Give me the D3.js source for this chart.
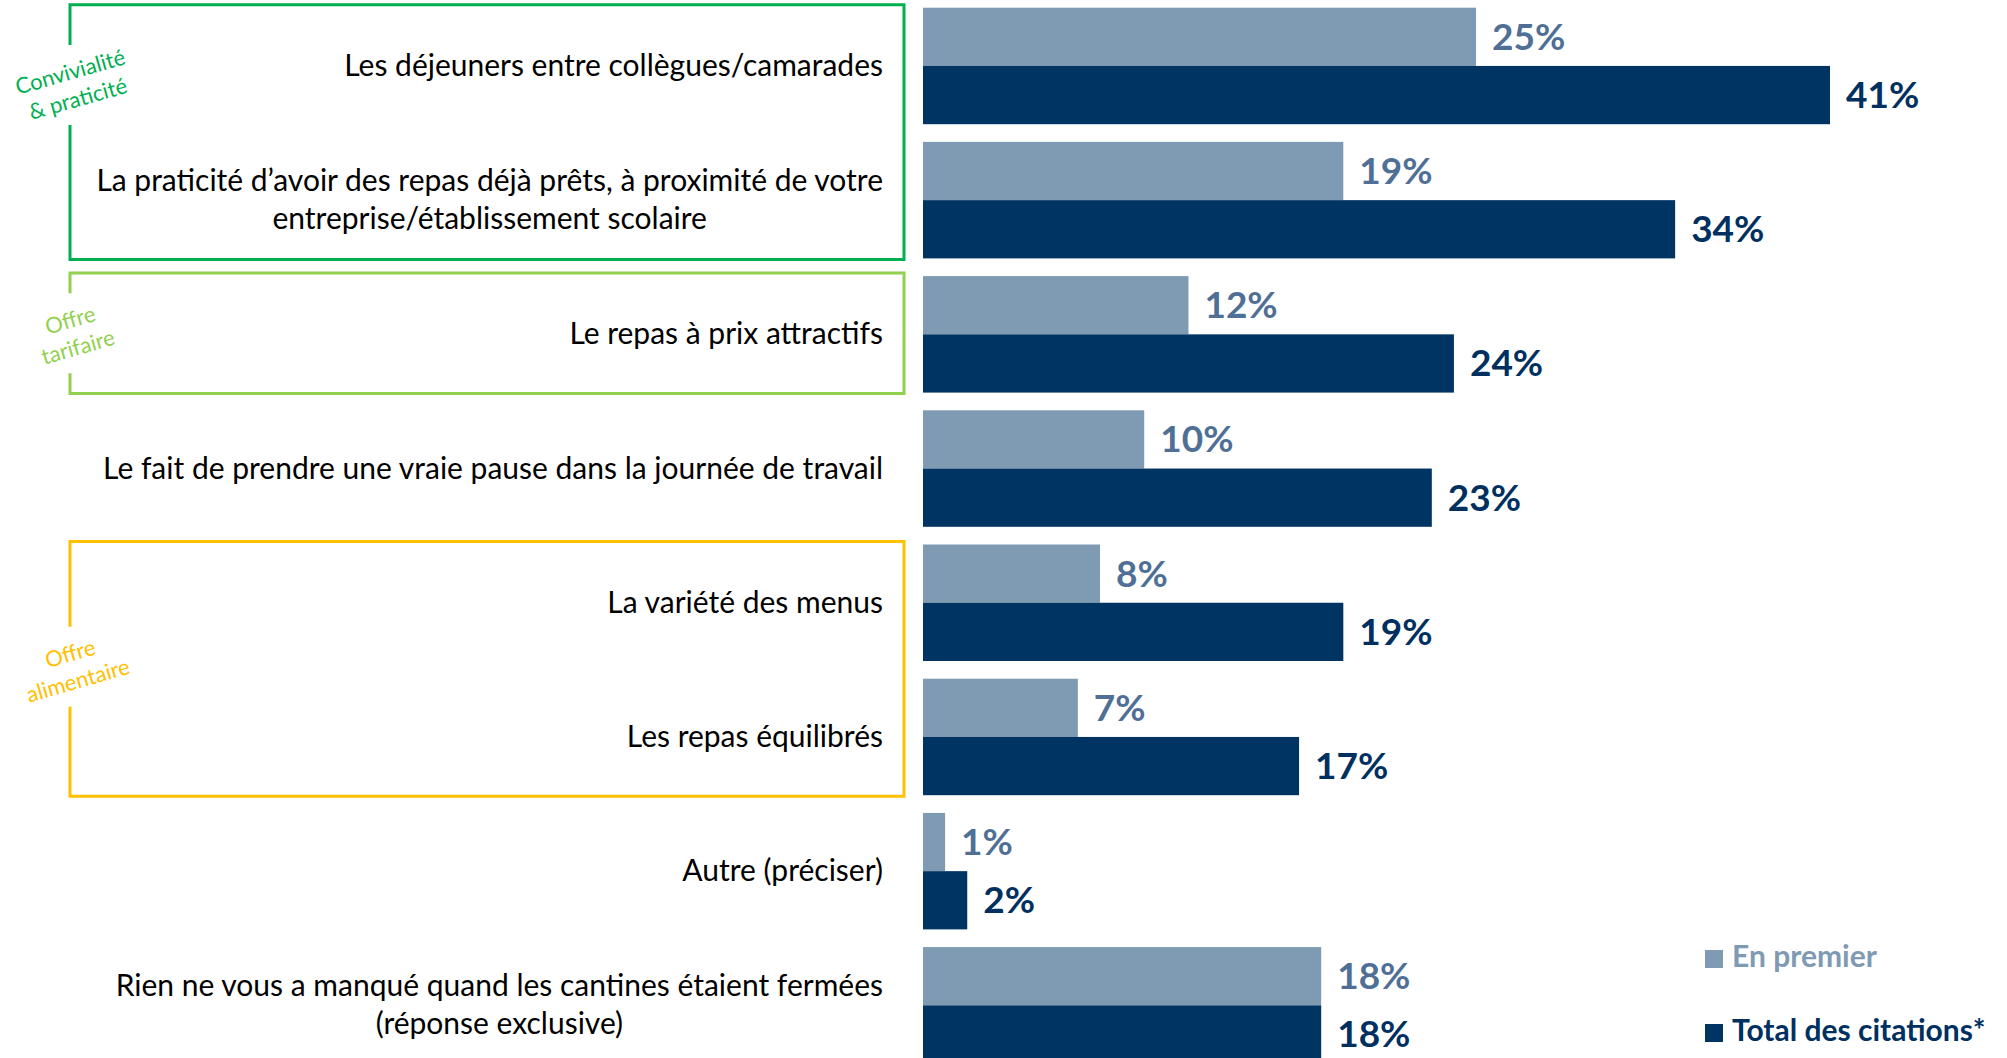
<!DOCTYPE html>
<html>
<head>
<meta charset="utf-8">
<script src="https://cdn.jsdelivr.net/npm/d3@7"></script>
<style>
  body { margin: 0; background: #fff; }
  text { font-family: Lato, "Open Sans", sans-serif; }
</style>
</head>
<body>
<div id="chart"></div>
<script>
var svgWidth = 2007;
var svgHeight = 1058;

// data
var categories = [
  "Les déjeuners entre collègues/camarades",
  "La praticité d’avoir des repas déjà prêts, à proximité de votre|entreprise/établissement scolaire",
  "Le repas à prix attractifs",
  "Le fait de prendre une vraie pause dans la journée de travail",
  "La variété des menus",
  "Les repas équilibrés",
  "Autre (préciser)",
  "Rien ne vous a manqué quand les cantines étaient fermées|(réponse exclusive)"
];
var seriesNames = ["En premier", "Total des citations*"];
var enPremier = [25, 19, 12, 10, 8, 7, 1, 18];
var totalCitations = [41, 34, 24, 23, 19, 17, 2, 18];

// group frames: label lines, first and last category index
var groupLabels = [["Convivialité", "& praticité"], ["Offre", "tarifaire"], ["Offre", "alimentaire"]];
var groupFirst = [0, 2, 4];
var groupLast = [1, 2, 5];
var groupShift = [-47, 0, -2];
var groupColors = ["#00b050", "#92d050", "#ffc000"];

var barColors = ["#7f9ab3", "#003463"];
var labelColors = ["#4f6f96", "#00305f"];

var rows = categories.map(function(c, i) {
  return {cat: c, values: [enPremier[i], totalCitations[i]]};
});

var svg = d3.select("#chart")
  .append("svg")
  .attr("width", svgWidth)
  .attr("height", svgHeight);

// Scales
var xScale = d3.scaleLinear()
  .domain([0, 41])
  .range([923, 1830]);

var yScale = d3.scaleBand()
  .domain(d3.range(categories.length))
  .range([7.7, 7.7 + 8 * 134.2 - 17.7])
  .paddingInner(0.132)
  .paddingOuter(0);

var subScale = d3.scaleBand()
  .domain([0, 1])
  .range([0, yScale.bandwidth()]);

// Group frames
groupLabels.forEach(function(lines, g) {
  var top = yScale(groupFirst[g]) - 3;
  var bottom = yScale(groupLast[g]) + yScale.bandwidth() + 1;
  var left = 70, right = 904;
  var mid = (top + bottom) / 2 + groupShift[g];
  var gap = 40;
  var frame = svg.append("g");
  frame.append("path")
    .attr("d", `M${left},${mid - gap} L${left},${top} L${right},${top} L${right},${bottom} L${left},${bottom} L${left},${mid + gap}`)
    .attr("fill", "none")
    .attr("stroke", groupColors[g])
    .attr("stroke-width", 3);
  var lbl = frame.append("text")
    .attr("transform", `translate(${left + 4},${mid}) rotate(-16)`)
    .attr("text-anchor", "middle")
    .attr("fill", groupColors[g])
    .style("font-size", "22px");
  lines.forEach(function(t, k) {
    lbl.append("tspan")
      .attr("x", 0)
      .attr("y", (k - (lines.length - 1) / 2) * 28 + 8)
      .text(t);
  });
});

// Bars
var rowGroups = svg.selectAll(".row")
  .data(rows)
  .enter()
  .append("g")
  .attr("class", "row")
  .attr("transform", (d, i) => `translate(0,${yScale(i)})`);

rowGroups.selectAll("rect")
  .data(d => d.values)
  .enter()
  .append("rect")
  .attr("x", xScale(0))
  .attr("y", (d, j) => subScale(j))
  .attr("width", d => xScale(d) - xScale(0))
  .attr("height", subScale.bandwidth())
  .attr("fill", (d, j) => barColors[j]);

rowGroups.selectAll(".val")
  .data(d => d.values)
  .enter()
  .append("text")
  .attr("class", "val")
  .attr("x", d => xScale(d) + 16)
  .attr("y", (d, j) => subScale(j) + subScale.bandwidth() / 2 + 13)
  .attr("fill", (d, j) => labelColors[j])
  .style("font-size", "37px")
  .style("font-weight", "bold")
  .text(d => d + "%");

// Category labels
rowGroups.each(function(d) {
  var lines = d.cat.split("|");
  var t = d3.select(this).append("text")
    .attr("text-anchor", "middle")
    .attr("fill", "#000")
    .style("font-size", "30px");
  lines.forEach(function(s, k) {
    t.append("tspan")
      .attr("x", 0)
      .attr("y", yScale.bandwidth() / 2 + (k - (lines.length - 1) / 2) * 38 + 10)
      .text(s);
  });
  // right align block, centre lines within it
  var w = t.node().getBBox().width;
  t.attr("transform", `translate(${883 - w / 2},0)`);
});

// Legend
var legend = svg.selectAll(".legend")
  .data(seriesNames)
  .enter()
  .append("g")
  .attr("class", "legend")
  .attr("transform", (d, i) => `translate(1705,${950 + i * 74})`);

legend.append("rect")
  .attr("width", 18)
  .attr("height", 18)
  .attr("fill", (d, i) => barColors[i]);

legend.append("text")
  .attr("x", 27)
  .attr("y", 17)
  .attr("fill", (d, i) => i == 0 ? barColors[0] : labelColors[1])
  .style("font-size", "30px")
  .style("font-weight", "bold")
  .text(d => d);
</script>
</body>
</html>
